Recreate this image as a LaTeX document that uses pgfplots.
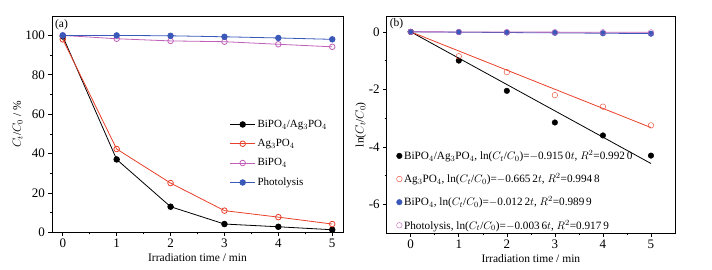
\documentclass[border=0pt]{standalone}
\usepackage{fontspec}
\setmainfont{Liberation Serif}
\usepackage{pgfplots}
\pgfplotsset{compat=1.18}
\definecolor{cred}{HTML}{E8402A}
\definecolor{cmag}{HTML}{C060B8}
\definecolor{cblue}{HTML}{3A58B8}
\pgfplotsset{
  common/.style={
    scale only axis,
    /pgf/number format/assume math mode=true,
    tick label style={font=\fontsize{13}{15}\selectfont},
    label style={font=\fontsize{11.5}{13}\selectfont},
    axis line style={line width=0.8pt},
    tick align=outside,
    xtick pos=bottom, ytick pos=left,
    major tick length=3.5pt, minor tick length=2pt,
    every tick/.style={line width=0.6pt, black},
    xmin=-0.2, xmax=5.2, xtick={0,...,5}, minor x tick num=1,
    xlabel={Irradiation time / min},
    xlabel style={yshift=1pt},
    legend cell align=left,
  }
}
\begin{document}
\begin{tikzpicture}
\path (0pt,0pt) rectangle (712pt,270pt);
\begin{axis}[common,
  at={(52pt,37.7pt)}, anchor=south west,
  width=291pt, height=215.6pt,
  ymin=0, ymax=109.5, ytick={0,20,...,100}, minor y tick num=1,
  ylabel={$C_t$/$C_0$ / \%}, ylabel style={yshift=-4pt},
  legend style={at={(0.6,0.54)}, anchor=north west, draw=none, fill=none,
    font=\fontsize{11}{13}\selectfont, row sep=6.5pt},
  legend image code/.code={\draw[mark repeat=2,mark phase=2,#1] plot coordinates {(0pt,0pt)(12.5pt,0pt)(25pt,0pt)};},
]
\addplot[black, line width=0.8pt, mark=*, mark size=2.8pt, mark options={fill=black}]
 coordinates {(0,99.5)(1,37)(2,13)(3,4.2)(4,2.8)(5,1.3)};
\addlegendentry{BiPO$_4$/Ag$_3$PO$_4$}
\addplot[cred, line width=0.8pt, mark=o, mark size=2.8pt, mark options={fill=white}]
 coordinates {(0,98)(1,42.3)(2,25)(3,11)(4,7.7)(5,4.2)};
\addlegendentry{Ag$_3$PO$_4$}
\addplot[cmag, line width=0.8pt, mark=o, mark size=2.8pt, mark options={fill=white}]
 coordinates {(0,100)(1,98.3)(2,97.2)(3,96.8)(4,95.5)(5,94.2)};
\addlegendentry{BiPO$_4$}
\addplot[cblue, line width=0.8pt, mark=*, mark size=2.8pt, mark options={fill=cblue}]
 coordinates {(0,100)(1,100)(2,99.8)(3,99.3)(4,98.7)(5,98.0)};
\addlegendentry{Photolysis}
\node[anchor=north west, font=\fontsize{11.5}{13}\selectfont, inner sep=1.5pt] at (rel axis cs:0.005,0.995) {(a)};
\end{axis}
\begin{axis}[common,
  at={(386.7pt,36.7pt)}, anchor=south west,
  width=288.3pt, height=217.3pt,
  xmin=-0.5, xmax=5.5,
  ymin=-7, ymax=0.55, ytick={-6,-4,-2,0}, minor y tick num=1,
  ylabel={ln($C_t$/$C_0$)}, ylabel style={yshift=-4pt},
  legend style={at={(0.03,0.40)}, anchor=north west, draw=none, fill=none,
    font=\fontsize{11.2}{13}\selectfont, row sep=8.5pt, inner xsep=1pt},
  legend image code/.code={\draw[#1] plot coordinates {(0pt,0pt)};},
]
\addplot[black, line width=0.8pt, forget plot] coordinates {(0,0)(5,-4.575)};
\addplot[cred, line width=0.8pt, forget plot] coordinates {(0,0)(5,-3.326)};
\addplot[cblue, line width=0.8pt, forget plot] coordinates {(0,0)(5,-0.061)};
\addplot[cmag, line width=0.8pt, forget plot] coordinates {(0,0)(5,-0.018)};
\addplot[black, only marks, mark=*, mark size=2.8pt, mark options={fill=black}]
 coordinates {(0,0)(1,-1.0)(2,-2.05)(3,-3.15)(4,-3.6)(5,-4.3)};
\addlegendentry{BiPO$_4$/Ag$_3$PO$_4$, ln($C_t$/$C_0$)=$-$0.915\,0$t$, $R^2$=0.992\,0}
\addplot[cred, only marks, mark=o, mark size=2.8pt, mark options={fill=white}]
 coordinates {(0,0)(1,-0.85)(2,-1.4)(3,-2.2)(4,-2.6)(5,-3.25)};
\addlegendentry{Ag$_3$PO$_4$, ln($C_t$/$C_0$)=$-$0.665\,2$t$, $R^2$=0.994\,8}
\addplot[cblue, only marks, mark=*, mark size=2.8pt, mark options={fill=cblue}]
 coordinates {(0,0)(1,-0.01)(2,-0.025)(3,-0.035)(4,-0.05)(5,-0.065)};
\addlegendentry{BiPO$_4$, ln($C_t$/$C_0$)=$-$0.012\,2$t$, $R^2$=0.989\,9}
\addplot[cmag, only marks, mark=o, mark size=2.8pt, mark options={fill=white}]
 coordinates {(0,0)(1,-0.004)(2,-0.008)(3,-0.011)(4,-0.015)(5,-0.02)};
\addlegendentry{Photolysis, ln($C_t$/$C_0$)=$-$0.003\,6$t$, $R^2$=0.917\,9}
\node[anchor=north west, font=\fontsize{11.5}{13}\selectfont, inner sep=1.5pt] at (rel axis cs:0.005,0.995) {(b)};
\end{axis}
\end{tikzpicture}
\end{document}
